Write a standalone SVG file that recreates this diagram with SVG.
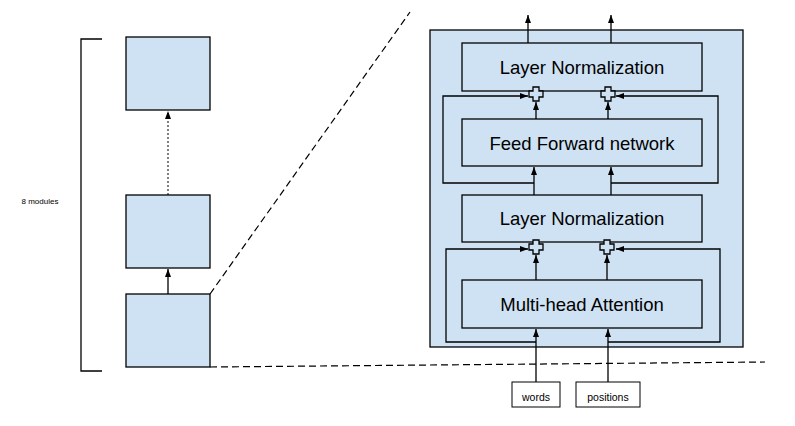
<svg xmlns="http://www.w3.org/2000/svg" width="795" height="426" viewBox="0 0 795 426">
<defs>
<style>
.box{fill:#cfe2f3;stroke:#000;stroke-width:1.3}
.wbox{fill:#fff;stroke:#000;stroke-width:1}
.ln{fill:none;stroke:#000;stroke-width:1.3}
.dash{fill:none;stroke:#000;stroke-width:1.2;stroke-dasharray:7,4}
.dot{fill:none;stroke:#000;stroke-width:1;stroke-dasharray:2,2}
.big{font-family:"Liberation Sans",Arial,sans-serif;font-size:18.5px;fill:#000;text-anchor:middle}
.sm{font-family:"Liberation Sans",Arial,sans-serif;font-size:10.5px;fill:#000;text-anchor:middle}
</style>
<marker id="ah" markerUnits="userSpaceOnUse" markerWidth="8" markerHeight="8" viewBox="0 0 8 8" refX="8" refY="4" orient="auto">
<path d="M0,1 L8,4 L0,7 z" fill="#000"/>
</marker>
</defs>

<g id="left-stack">
<g id="bracket"><path class="ln" d="M102,39 H81 V371 H102"/></g>
<g id="label-modules"><text x="40" y="204" class="sm" style="font-size:8px">8 modules</text></g>
<g id="module-top"><rect class="box" x="126" y="37" width="84" height="73"/></g>
<g id="module-mid"><rect class="box" x="126" y="195" width="84" height="73"/></g>
<g id="module-bottom"><rect class="box" x="126" y="294" width="84" height="73"/></g>
</g>

<g id="zoom-lines">
<path class="dash" d="M210,294 L410,12"/>
<path class="dash" d="M210,367 L765,362"/>
</g>

<g id="container"><rect class="box" x="430" y="30" width="313" height="317"/></g>

<g id="layer-norm-top"><rect class="box" x="462" y="43" width="240" height="48"/><text x="582" y="74" class="big">Layer Normalization</text></g>
<g id="feed-forward"><rect class="box" x="462" y="119" width="240" height="47"/><text x="582" y="150" class="big">Feed Forward network</text></g>
<g id="layer-norm-bottom"><rect class="box" x="462" y="195" width="240" height="47"/><text x="582" y="225" class="big">Layer Normalization</text></g>
<g id="multi-head"><rect class="box" x="462" y="280" width="240" height="48"/><text x="582" y="311" class="big">Multi-head Attention</text></g>

<g id="words"><rect class="wbox" x="512" y="382" width="48" height="25"/><text x="536" y="401" class="sm">words</text></g>
<g id="positions"><rect class="wbox" x="576" y="382" width="64" height="25"/><text x="608" y="401" class="sm">positions</text></g>

<g id="add-1"><path class="box" d="M533,87 h6 v4 h4 v6 h-4 v4 h-6 v-4 h-4 v-6 h4 z"/></g>
<g id="add-2"><path class="box" d="M605,87 h6 v4 h4 v6 h-4 v4 h-6 v-4 h-4 v-6 h4 z"/></g>
<g id="add-3"><path class="box" d="M533,240 h6 v4 h4 v6 h-4 v4 h-6 v-4 h-4 v-6 h4 z"/></g>
<g id="add-4"><path class="box" d="M604,240 h6 v4 h4 v6 h-4 v4 h-6 v-4 h-4 v-6 h4 z"/></g>

<g id="connectors">
<path class="ln" d="M168,294 V269" marker-end="url(#ah)"/>
<path class="dot" d="M168,195 V111" marker-end="url(#ah)"/>
<path class="ln" d="M528,43 V15" marker-end="url(#ah)"/>
<path class="ln" d="M611,43 V15" marker-end="url(#ah)"/>
<path class="ln" d="M536,119 V102" marker-end="url(#ah)"/>
<path class="ln" d="M608,119 V102" marker-end="url(#ah)"/>
<path class="ln" d="M534,195 V167" marker-end="url(#ah)"/>
<path class="ln" d="M611,195 V167" marker-end="url(#ah)"/>
<path class="ln" d="M534,183 H443 V96 H528" marker-end="url(#ah)"/>
<path class="ln" d="M611,183 H718 V96 H616" marker-end="url(#ah)"/>
<path class="ln" d="M536,280 V255" marker-end="url(#ah)"/>
<path class="ln" d="M607,280 V255" marker-end="url(#ah)"/>
<path class="ln" d="M536,382 V329" marker-end="url(#ah)"/>
<path class="ln" d="M608,382 V329" marker-end="url(#ah)"/>
<path class="ln" d="M536,342 H446 V249 H528" marker-end="url(#ah)"/>
<path class="ln" d="M608,342 H720 V249 H616" marker-end="url(#ah)"/>
</g>
</svg>
